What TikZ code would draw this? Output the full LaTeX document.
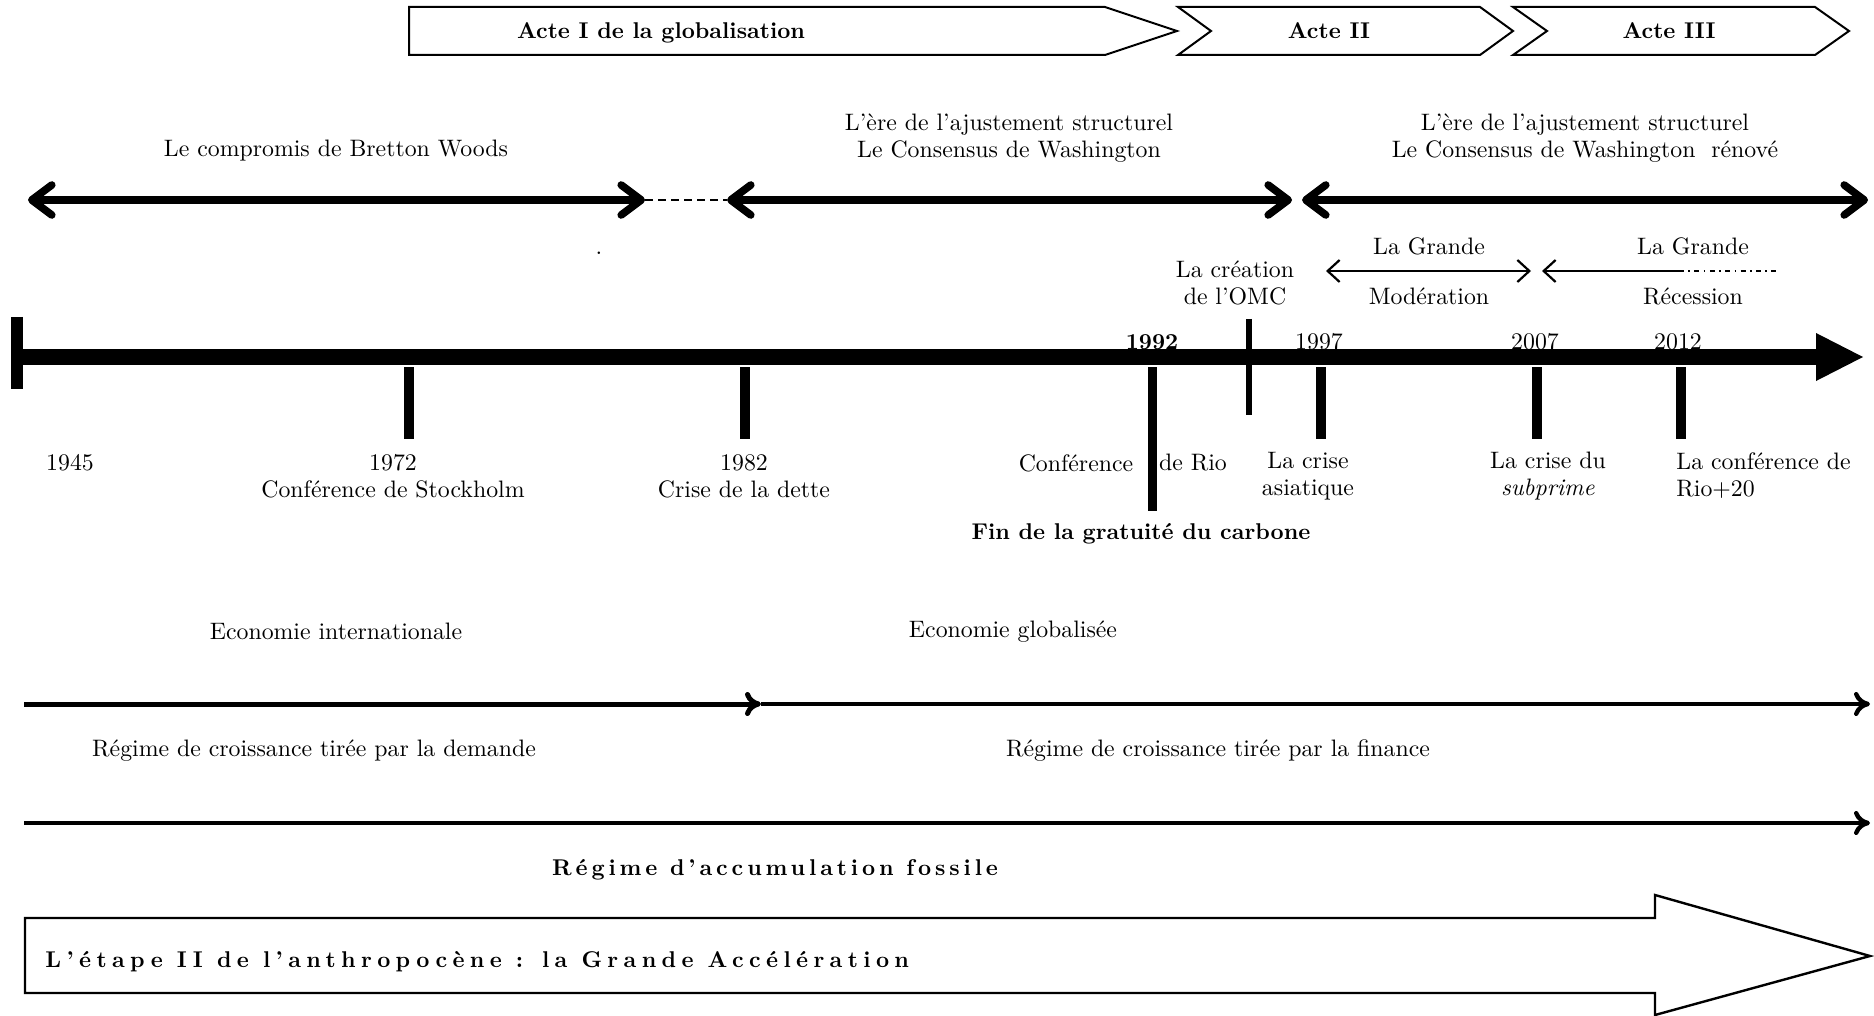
\documentclass[tikz,border=0pt]{standalone}
\usepackage{fontspec}
\setmainfont{lmroman10-regular.otf}[BoldFont=lmroman10-bold.otf, ItalicFont=lmroman10-italic.otf, BoldItalicFont=lmroman10-bolditalic.otf]
\usetikzlibrary{arrows.meta}
\begin{document}
\begin{tikzpicture}[x=0.5pt,y=-0.5pt,
  txt/.style={font=\fontsize{11.9}{13.5}\selectfont, inner sep=0pt, align=center},
  btxt/.style={font=\fontsize{11.4}{13.5}\selectfont\bfseries, inner sep=0pt, align=center},
  spaced/.style={font=\fontsize{11.4}{13.5}\selectfont\bfseries\addfontfeatures{LetterSpace=#1}, inner sep=0pt},
  actbox/.style={draw, line width=1pt, line join=miter},
  bigdbl/.style={line width=3.8pt, {Straight Barb[length=10pt,width=15pt,round]}-{Straight Barb[length=10pt,width=15pt,round]}},
  thinhead/.style={line width=1.1pt},
  tickmark/.style={line width=5pt},
  lowarrow/.style={line width=2.2pt, -{Computer Modern Rightarrow[length=8pt,width=12pt]}},
]
\useasboundingbox (0,0) rectangle (1874,1016);

% ---- top act arrows
\draw[actbox] (409,7) -- (1105,7) -- (1177,31) -- (1105,55) -- (409,55) -- cycle;
\draw[actbox] (1178,7) -- (1480,7) -- (1513,31) -- (1480,55) -- (1178,55) -- (1211,31) -- cycle;
\draw[actbox] (1513,7) -- (1815,7) -- (1849,31) -- (1815,55) -- (1513,55) -- (1547,31) -- cycle;
\node[btxt] (a1t) at (661,33) {Acte I de la globalisation};
\node[btxt] (a2t) at (1329,31) {Acte II};
\node[btxt] (a3t) at (1669,31) {Acte III};

% ---- eras
\node[txt] (bwt) at (336,151) {Le compromis de Bretton Woods};
\node[txt] (cwt) at (1009,138) {L’ère de l’ajustement structurel\\Le Consensus de Washington};
\node[txt] (rwt) at (1585,138) {L’ère de l’ajustement structurel\\Le Consensus de Washington~ rénové};

\coordinate (bw1) at (28,200);
\coordinate (bw2) at (645,200);
\coordinate (cw1) at (727,200);
\coordinate (cw2) at (1292,200);
\coordinate (rw1) at (1302,200);
\coordinate (rw2) at (1868,200);
\draw[bigdbl] (bw1) -- (bw2);
\draw[line width=1pt, dash pattern=on 4pt off 2.5pt] (bw2) -- (cw1);
\draw[bigdbl] (cw1) -- (cw2);
\draw[bigdbl] (rw1) -- (rw2);
\node[txt, anchor=base] (dot) at (599,255) {.};

% ---- small arrows : Grande Modération / Récession
\node[txt] (omc) at (1235,283) {La création\\de l’OMC};
\node[txt] (gm1) at (1429,246) {La Grande};
\node[txt] (gm2) at (1429,296) {Modération};
\node[txt] (gr1) at (1693,246) {La Grande};
\node[txt] (gr2) at (1693,296) {Récession};
\coordinate (m1) at (1326,271);
\coordinate (m2) at (1531,271);
\coordinate (r1) at (1542,271);
\coordinate (r2) at (1679,271);
\coordinate (r3) at (1776,271);
\draw[thinhead, {Straight Barb[length=6pt,width=11pt]}-{Straight Barb[length=6pt,width=11pt]}] (m1) -- (m2);
\draw[thinhead, {Straight Barb[length=6pt,width=11pt]}-] (r1) -- (r2);
\draw[line width=1pt, dash pattern=on 2.5pt off 2.2pt on 0.8pt off 2.2pt] (r2) -- (r3);

% ---- years above the axis (partly covered by it)
\node[btxt] (y92) at (1152,342) {1992};
\node[txt] (y97) at (1319,342) {1997};
\node[txt] (y07) at (1535,342) {2007};
\node[txt] (y12) at (1678,342) {2012};

% ---- main time axis
\coordinate (ax0) at (17,357);
\coordinate (ax1) at (1816,357);
\draw[line width=8pt] (ax0) -- (ax1);
\fill (1816,333) -- (1863,357) -- (1816,381) -- cycle;
\draw[line width=6pt] (17,317) -- (17,389);
\draw[tickmark] (409,367) -- (409,439);
\draw[tickmark] (745,367) -- (745,439);
\draw[line width=4.5pt] (1152,367) -- (1152,511);
\draw[line width=2.6pt] (1249,319) -- (1249,415);
\draw[tickmark] (1321,367) -- (1321,439);
\draw[tickmark] (1537,367) -- (1537,439);
\draw[tickmark] (1681,367) -- (1681,439);

% ---- labels below the axis
\node[txt] (l45) at (70,463) {1945};
\node[txt] (l72) at (393,476) {1972\\Conférence de Stockholm};
\node[txt] (l82) at (744,476) {1982\\Crise de la dette};
\node[txt] (rio1) at (1076,463) {Conférence};
\node[txt] (rio2) at (1193,463) {de Rio};
\node[txt] (asia) at (1308,476) {La crise\\asiatique};
\node[txt] (subp) at (1548,476) {La crise du\\\textit{subprime}};
\node[txt, align=left, anchor=west] (rio20) at (1676,476) {La conférence de\\Rio+20};
\node[btxt] (carb) at (1141,534) {Fin de la gratuité du carbone};

% ---- economy / growth regime
\node[txt] (ei) at (336,631) {Economie internationale};
\node[txt] (eg) at (1013,632) {Economie globalisée};
\coordinate (e0) at (24,704);
\coordinate (e1) at (761,704);
\coordinate (e2) at (1870,704);
\draw[lowarrow, line width=2.5pt] (e0) -- (e1);
\draw[lowarrow] (e1) -- (e2);
\node[txt] (rd) at (314,751) {Régime de croissance tirée par la demande};
\node[txt] (rf) at (1218,751) {Régime de croissance tirée par la finance};
\coordinate (g0) at (24,823);
\coordinate (g1) at (1870,823);
\draw[lowarrow] (g0) -- (g1);

\node[spaced=17] (fos) at (775,870) {Régime d’accumulation fossile};

% ---- big arrow
\draw[line width=1.2pt, line join=miter] (25,918) -- (1655,918) -- (1655,895) -- (1870,956) -- (1655,1015) -- (1655,993) -- (25,993) -- cycle;
\node[spaced=23.5, anchor=west] (etape) at (45,962) {L’étape II de l’anthropocène : la Grande Accélération};
\end{tikzpicture}
\end{document}
